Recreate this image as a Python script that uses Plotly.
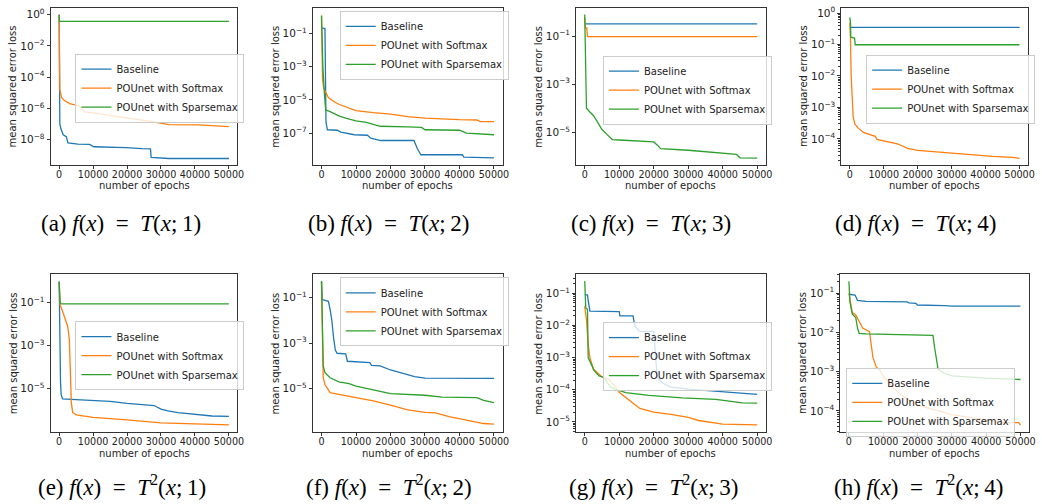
import plotly.graph_objects as go

# ---------------- data ----------------
SERIES_NAMES = ["Baseline", "POUnet with Softmax", "POUnet with Sparsemax"]
EPOCH_TICKS = [0, 10000, 20000, 30000, 40000, 50000]
EQ = "\u2002=\u2002"
CAPTIONS = [
    "(a) <i>f</i>(<i>x</i>)" + EQ + "<i>T</i>(<i>x</i>;\u20091)",
    "(b) <i>f</i>(<i>x</i>)" + EQ + "<i>T</i>(<i>x</i>;\u20092)",
    "(c) <i>f</i>(<i>x</i>)" + EQ + "<i>T</i>(<i>x</i>;\u20093)",
    "(d) <i>f</i>(<i>x</i>)" + EQ + "<i>T</i>(<i>x</i>;\u20094)",
    "(e) <i>f</i>(<i>x</i>)" + EQ + "<i>T</i><sup>2</sup>(<i>x</i>;\u20091)",
    "(f) <i>f</i>(<i>x</i>)" + EQ + "<i>T</i><sup>2</sup>(<i>x</i>;\u20092)",
    "(g) <i>f</i>(<i>x</i>)" + EQ + "<i>T</i><sup>2</sup>(<i>x</i>;\u20093)",
    "(h) <i>f</i>(<i>x</i>)" + EQ + "<i>T</i><sup>2</sup>(<i>x</i>;\u20094)",
]

# (a) T(x;1)
A_BASE_X = [0, 200, 500, 1200, 2100, 2600, 5500, 9000, 10200, 15800, 19600, 24500, 26900, 27100, 32300, 50000]
A_BASE_Y = [1.0, 1e-7, 5e-8, 2e-8, 1.5e-8, 6e-9, 5e-9, 4.8e-9, 3.4e-9, 3.3e-9, 3e-9, 2.6e-9, 2.5e-9, 7e-10, 6e-10, 6e-10]
A_SOFT_X = [0, 200, 700, 1650, 3100, 6000, 7500, 11900, 15800, 21600, 26500, 32300, 41000, 50000]
A_SOFT_Y = [1.0, 1.6e-5, 4.8e-6, 3e-6, 2e-6, 1.4e-6, 5.8e-7, 4.5e-7, 3.2e-7, 2.2e-7, 1.5e-7, 9e-8, 8.5e-8, 6.6e-8]
A_SPARSE_X = [0, 100, 50000]
A_SPARSE_Y = [1.0, 0.37, 0.37]

# (b) T(x;2)
B_BASE_X = [0, 1000, 1300, 1700, 4600, 5600, 9500, 13300, 14300, 17200, 26800, 27800, 28800, 40800, 41300, 50000]
B_BASE_Y = [0.22, 0.2, 4.6e-7, 1.6e-7, 1.5e-7, 1.15e-7, 8e-8, 7.5e-8, 5e-8, 3.6e-8, 3.6e-8, 1.15e-8, 5e-9, 5e-9, 3.6e-9, 3.2e-9]
B_SOFT_X = [0, 100, 300, 600, 1000, 2000, 3500, 5000, 7500, 10000, 15000, 20000, 25000, 30000, 40000, 45000, 46000, 50000]
B_SOFT_Y = [1.2, 3e-3, 1.7e-4, 6e-5, 3.5e-5, 1.4e-5, 8e-6, 5.5e-6, 3.5e-6, 2.3e-6, 1.7e-6, 1.4e-6, 1e-6, 8e-7, 6.5e-7, 6.2e-7, 5e-7, 5e-7]
B_SPARSE_X = [0, 100, 400, 800, 1000, 1200, 2500, 5000, 7000, 10000, 13000, 17000, 25000, 29000, 30000, 40000, 42000, 50000]
B_SPARSE_Y = [1.2, 0.1, 1e-3, 3e-5, 5e-6, 2.5e-6, 2e-6, 1.1e-6, 8e-7, 5.5e-7, 4.5e-7, 2.6e-7, 2.4e-7, 2.2e-7, 1.6e-7, 1.5e-7, 1e-7, 8e-8]

# (c) T(x;3)
C_BASE_X = [0, 50000]
C_BASE_Y = [0.32, 0.32]
C_SOFT_X = [0, 200, 600, 800, 50000]
C_SOFT_Y = [0.6, 0.22, 0.22, 0.096, 0.096]
C_SPARSE_X = [0, 150, 300, 500, 1500, 2500, 3500, 5000, 6500, 8000, 10000, 15000, 20000, 21000, 22000, 30000, 40000, 44000, 45000, 50000]
C_SPARSE_Y = [0.8, 0.05, 1e-3, 1e-4, 7e-5, 5e-5, 3e-5, 1.3e-5, 8e-6, 5e-6, 4.8e-6, 4.4e-6, 4e-6, 3e-6, 2.1e-6, 1.8e-6, 1.3e-6, 1.2e-6, 8.7e-7, 8.5e-7]

# (d) T(x;4)
D_BASE_X = [0, 50000]
D_BASE_Y = [0.35, 0.35]
D_SOFT_X = [0, 200, 400, 700, 1000, 1500, 2500, 4000, 6500, 7500, 8000, 12000, 14000, 15000, 17000, 20000, 25000, 30000, 37000, 42000, 48000, 50000]
D_SOFT_Y = [0.5, 0.15, 1e-2, 1.5e-3, 5e-4, 3e-4, 2.2e-4, 1.6e-4, 1.35e-4, 1.2e-4, 9.6e-5, 8e-5, 7e-5, 6.3e-5, 5e-5, 4.3e-5, 3.9e-5, 3.5e-5, 3.1e-5, 2.8e-5, 2.6e-5, 2.4e-5]
D_SPARSE_X = [0, 200, 300, 1400, 1600, 50000]
D_SPARSE_Y = [0.73, 0.5, 0.17, 0.16, 0.098, 0.098]

# (e) T^2(x;1)
E_BASE_X = [0, 200, 400, 600, 1000, 5000, 10000, 15000, 20000, 28000, 30000, 32000, 35000, 40000, 45000, 50000]
E_BASE_Y = [1.0, 1e-3, 2e-5, 5e-6, 3.3e-6, 3e-6, 2.8e-6, 2.5e-6, 2e-6, 1.6e-6, 1.1e-6, 9e-7, 7.5e-7, 6.3e-7, 5.2e-7, 5e-7]
E_SOFT_X = [0, 300, 1000, 2000, 2500, 3000, 3300, 3600, 4000, 5000, 10000, 15000, 20000, 30000, 40000, 50000]
E_SOFT_Y = [0.9, 0.08, 0.04, 0.015, 8e-3, 2e-3, 1e-4, 2e-6, 7.6e-7, 5.8e-7, 4.5e-7, 4e-7, 3.4e-7, 2.5e-7, 2.3e-7, 2e-7]
E_SPARSE_X = [0, 300, 600, 50000]
E_SPARSE_Y = [0.9, 0.1, 0.088, 0.088]

# (f) T^2(x;2)
F_BASE_X = [0, 200, 500, 2000, 2500, 3000, 3500, 4000, 4500, 7000, 7500, 14000, 14500, 17000, 20000, 23000, 27000, 30000, 50000]
F_BASE_Y = [0.5, 0.08, 0.08, 0.07, 0.03, 1e-2, 1.7e-3, 5e-4, 3.6e-4, 3.4e-4, 1.6e-4, 1.4e-4, 1.05e-4, 1e-4, 6.6e-5, 5e-5, 3.4e-5, 2.9e-5, 2.8e-5]
F_SOFT_X = [0, 200, 500, 1000, 2500, 5000, 10000, 15000, 20000, 25000, 30000, 33000, 37000, 42000, 47000, 50000]
F_SOFT_Y = [0.5, 1e-3, 3e-5, 1.5e-5, 6.7e-6, 5.6e-6, 4e-6, 2.9e-6, 1.85e-6, 1.15e-6, 9e-7, 8.5e-7, 5.9e-7, 4e-7, 2.9e-7, 2.7e-7]
F_SPARSE_X = [0, 300, 500, 1000, 2500, 5000, 8000, 10000, 15000, 20000, 30000, 35000, 45000, 47000, 50000]
F_SPARSE_Y = [0.55, 1e-3, 1e-4, 5e-5, 3e-5, 2e-5, 1.66e-5, 1.3e-5, 8.5e-6, 6e-6, 5.1e-6, 4.2e-6, 4e-6, 3e-6, 2.4e-6]

# (g) T^2(x;3)
G_BASE_X = [0, 800, 1000, 1500, 10000, 10200, 14000, 14500, 15500, 16000, 20000, 20500, 21000, 23000, 25000, 30000, 35000, 42000, 50000]
G_BASE_Y = [0.09, 0.09, 0.06, 0.028, 0.027, 0.02, 0.02, 0.01, 7e-3, 6.5e-3, 6.5e-3, 1e-3, 2.4e-4, 1.5e-4, 1.2e-4, 1.05e-4, 9.5e-5, 8.5e-5, 7.2e-5]
G_SOFT_X = [0, 500, 1000, 1500, 2500, 5000, 7000, 9000, 10000, 12000, 14000, 16000, 20000, 25000, 30000, 33000, 40000, 50000]
G_SOFT_Y = [0.04, 1.5e-2, 2.6e-3, 1e-3, 4.4e-4, 2.5e-4, 2.1e-4, 1.2e-4, 8.3e-5, 5.8e-5, 3.8e-5, 2.6e-5, 2e-5, 1.7e-5, 1.38e-5, 1.1e-5, 8.5e-6, 8e-6]
G_SPARSE_X = [0, 300, 800, 1000, 2700, 4150, 5600, 6600, 7500, 9000, 11900, 18600, 28300, 38000, 42800, 45700, 50000]
G_SPARSE_Y = [0.24, 0.035, 0.032, 1e-3, 4e-4, 2.7e-4, 2.4e-4, 1.6e-4, 1.2e-4, 1.02e-4, 8.1e-5, 6.7e-5, 5.6e-5, 5e-5, 4.4e-5, 3.9e-5, 3.8e-5]

# (h) T^2(x;4)
H_BASE_X = [0, 1800, 2500, 5000, 17000, 17500, 19500, 20000, 28000, 30000, 50000]
H_BASE_Y = [0.094, 0.09, 0.066, 0.062, 0.06, 0.057, 0.055, 0.05, 0.048, 0.047, 0.047]
H_SOFT_X = [0, 500, 1000, 2000, 3000, 4000, 6000, 6500, 7000, 8000, 9000, 10000, 12000, 15000, 20000, 30000, 40000, 45000, 49500, 50000]
H_SOFT_Y = [0.1, 0.05, 0.032, 0.028, 0.019, 0.013, 0.0105, 5e-3, 2.3e-3, 1.3e-3, 1.1e-3, 7.7e-4, 4.8e-4, 2.6e-4, 1.4e-4, 8e-5, 6e-5, 5e-5, 5e-5, 4.3e-5]
H_SPARSE_X = [0, 300, 1000, 2000, 2500, 3000, 5000, 24000, 24500, 25000, 25500, 26000, 28000, 30000, 40000, 50000]
H_SPARSE_Y = [0.2, 0.06, 0.029, 0.024, 0.013, 0.0095, 0.0092, 0.0085, 0.0084, 4e-3, 2e-3, 1.15e-3, 9e-4, 7.8e-4, 6.8e-4, 6.3e-4]

# y tick exponents per panel
YTICK_EXP = [
    [0, -2, -4, -6, -8],
    [-1, -3, -5, -7],
    [-1, -3, -5],
    [0, -1, -2, -3, -4],
    [-1, -3, -5],
    [-1, -3, -5],
    [-1, -2, -3, -4, -5],
    [-1, -2, -3, -4],
]

PANEL_DATA = [
    [(A_BASE_X, A_BASE_Y), (A_SOFT_X, A_SOFT_Y), (A_SPARSE_X, A_SPARSE_Y)],
    [(B_BASE_X, B_BASE_Y), (B_SOFT_X, B_SOFT_Y), (B_SPARSE_X, B_SPARSE_Y)],
    [(C_BASE_X, C_BASE_Y), (C_SOFT_X, C_SOFT_Y), (C_SPARSE_X, C_SPARSE_Y)],
    [(D_BASE_X, D_BASE_Y), (D_SOFT_X, D_SOFT_Y), (D_SPARSE_X, D_SPARSE_Y)],
    [(E_BASE_X, E_BASE_Y), (E_SOFT_X, E_SOFT_Y), (E_SPARSE_X, E_SPARSE_Y)],
    [(F_BASE_X, F_BASE_Y), (F_SOFT_X, F_SOFT_Y), (F_SPARSE_X, F_SPARSE_Y)],
    [(G_BASE_X, G_BASE_Y), (G_SOFT_X, G_SOFT_Y), (G_SPARSE_X, G_SPARSE_Y)],
    [(H_BASE_X, H_BASE_Y), (H_SOFT_X, H_SOFT_Y), (H_SPARSE_X, H_SPARSE_Y)],
]

# ---------------- layout / style ----------------
W, H = 1042, 504
COLORS = ["#1f77b4", "#ff7f0e", "#2ca02c"]
FONT = "DejaVu Sans"
SERIF = "Liberation Serif"

# plot-area boxes in pixels: (left, top, right, bottom)
BOXES = [
    (51, 5, 239, 163), (315, 5, 506, 163), (580, 5, 771, 163), (847, 5, 1035, 163),
    (51, 273, 239, 432), (315, 273, 506, 432), (580, 273, 771, 432), (846, 273, 1036, 432),
]
YRANGES = [
    [-9.64, 0.43], [-8.92, 0.54], [-6.36, 0.17], [-4.83, 0.16],
    [-7.05, 0.32], [-6.93, 0.03], [-5.33, -0.41], [-4.55, -0.52],
]
LEGEND_POS = [(76, 51), (342, 8), (607, 53), (872, 52), (76, 320), (342, 276), (607, 321), (852, 367)]
MINOR = [False, False, False, True, False, False, True, True]
CAPTION_POS = [(122, 222), (391, 222), (655, 222), (922, 222),
               (123, 485), (392, 485), (658, 485), (925, 485)]


def sup_label(e):
    s = str(e).replace("-", "\u2212")
    return "10<sup>" + s + "</sup>"


fig = go.Figure()
layout = dict(
    width=W, height=H, margin=dict(l=0, r=0, t=0, b=0),
    paper_bgcolor="white", plot_bgcolor="white", showlegend=True,
    font=dict(family=FONT, size=10, color="black"),
)
annotations = []

for i in range(8):
    n = i + 1
    sfx = "" if n == 1 else str(n)
    L, T, R, B = BOXES[i]
    legname = "legend" + sfx
    for j, (xs, ys) in enumerate(PANEL_DATA[i]):
        fig.add_trace(go.Scatter(
            x=xs, y=ys, mode="lines", name=SERIES_NAMES[j],
            line=dict(color=COLORS[j], width=1.3),
            xaxis="x" + sfx, yaxis="y" + sfx, legend=legname,
        ))
    xa = dict(
        domain=[L / W, R / W], anchor="y" + sfx, range=[-2500, 52500],
        tickvals=EPOCH_TICKS, ticktext=[str(v) for v in EPOCH_TICKS],
        showline=True, mirror=True, linecolor="#333", linewidth=1,
        ticks="outside", ticklen=3, tickcolor="#333", showgrid=False, zeroline=False,
        ticklabelstandoff=-3,
        tickfont=dict(family=FONT, size=9.6, color="#222"),
    )
    ya = dict(
        domain=[1 - B / H, 1 - T / H], anchor="x" + sfx, type="log", range=YRANGES[i],
        tickvals=[10.0 ** e for e in YTICK_EXP[i]],
        ticktext=[sup_label(e) for e in YTICK_EXP[i]],
        showline=True, mirror=True, linecolor="#333", linewidth=1,
        ticks="outside", ticklen=3, tickcolor="#333", showgrid=False, zeroline=False,
        tickfont=dict(family=FONT, size=10.5, color="#222"),
    )
    if MINOR[i]:
        ya["minor"] = dict(ticks="outside", ticklen=2, tickcolor="#333", dtick="D1", showgrid=False)
    layout["xaxis" + sfx] = xa
    layout["yaxis" + sfx] = ya
    lx, ly = LEGEND_POS[i]
    layout[legname] = dict(
        x=lx / W, y=1 - ly / H, xanchor="left", yanchor="top",
        bgcolor="rgba(255,255,255,0.8)", bordercolor="#cccccc", borderwidth=1,
        font=dict(family=FONT, size=10, color="#222"), tracegroupgap=0,
        itemwidth=30,
    )
    # axis titles
    annotations.append(dict(
        text="mean squared error loss", x=(L - 38) / W, y=1 - ((T + B) / 2) / H,
        xref="paper", yref="paper", textangle=-90, showarrow=False,
        xanchor="center", yanchor="middle", font=dict(family=FONT, size=10, color="#222"),
    ))
    annotations.append(dict(
        text="number of epochs", x=((L + R) / 2) / W, y=1 - (B + 21) / H,
        xref="paper", yref="paper", showarrow=False,
        xanchor="center", yanchor="middle", font=dict(family=FONT, size=10, color="#222"),
    ))
    cx, cy = CAPTION_POS[i]
    annotations.append(dict(
        text=CAPTIONS[i], x=cx / W, y=1 - cy / H, xref="paper", yref="paper",
        showarrow=False, xanchor="center", yanchor="middle",
        font=dict(family=SERIF, size=23, color="black"),
    ))

layout["annotations"] = annotations
fig.update_layout(**layout)
fig.write_html("out.html")
